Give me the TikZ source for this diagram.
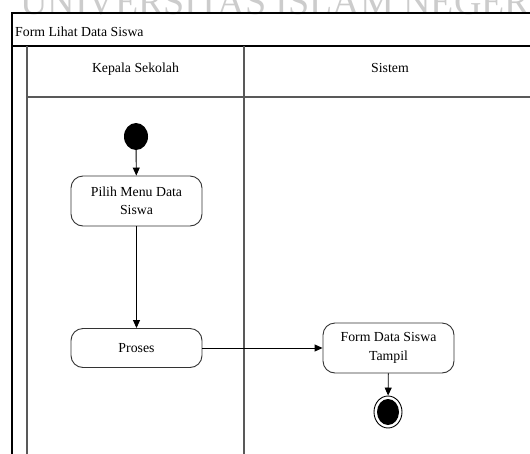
\documentclass[tikz,border=0pt]{standalone}
\usepackage{fontspec}
\setmainfont{Liberation Serif}
\usetikzlibrary{shapes.geometric}
\usetikzlibrary{positioning}
\usetikzlibrary{arrows.meta}

\tikzset{
  act/.style={draw=black!80, rounded corners=12pt, minimum width=131pt, align=center, inner sep=2pt, line width=0.9pt},
  flow/.style={-{Triangle[length=8pt,width=7pt]}, line width=0.9pt},
  lane/.style={line width=1.1pt, black!65},
  frame/.style={line width=1.1pt},
}

\begin{document}
\begin{tikzpicture}[x=1pt,y=-1pt, font=\fontsize{13.8}{18.5}\selectfont]
\clip (0,0) rectangle (530,453);
%watermark
\node[anchor=base west, inner sep=0pt, text=black!20, font=\fontsize{38}{40}\selectfont] (wm) at (20,14) {UNIVERSITAS ISLAM NEGERI};
%frame - lines
\draw[frame] (531,13)--(12,13)--(12,454);	%top and left
\draw[frame] (12,46)--(531,46);			%title row
\draw[lane] (27,46)--(27,454);			%lane left
\draw[lane] (244,46)--(244,454);		%lane divider
\draw[lane] (27,97)--(531,97);			%header row
%frame - texts
\node[anchor=base west, inner sep=0pt] (title) at (15,36) {Form Lihat Data Siswa};
\node[anchor=base] (kepala) at (135.5,72) {Kepala Sekolah};
\node[anchor=base] (sistem) at (390,72) {Sistem};

%nodes
\node[ellipse, fill=black, minimum width=24pt, minimum height=27pt, inner sep=0pt] (start) at (136,136.5) {};
\node[act, minimum height=50pt] (menu) at (136.5,201) {Pilih Menu Data\\Siswa};
\node[act, minimum height=39pt] (proses) at (136.5,348) {Proses};
\node[act, minimum height=50pt] (tampil) at (388.5,348) {Form Data Siswa\\Tampil};
\node[ellipse, draw, line width=0.9pt, minimum width=28pt, minimum height=32pt, inner sep=0pt] (end) at (388,412) {};
\node[ellipse, fill=black, minimum width=22pt, minimum height=26pt, inner sep=0pt] (endin) at (end.center) {};

%connectors
\draw[flow] (start)--(menu);		%start--menu
\draw[flow] (menu)--(proses);		%menu--proses
\draw[flow] (proses)--(tampil);		%proses--tampil
\draw[flow] (tampil)--(end);		%tampil--end
\end{tikzpicture}
\end{document}
